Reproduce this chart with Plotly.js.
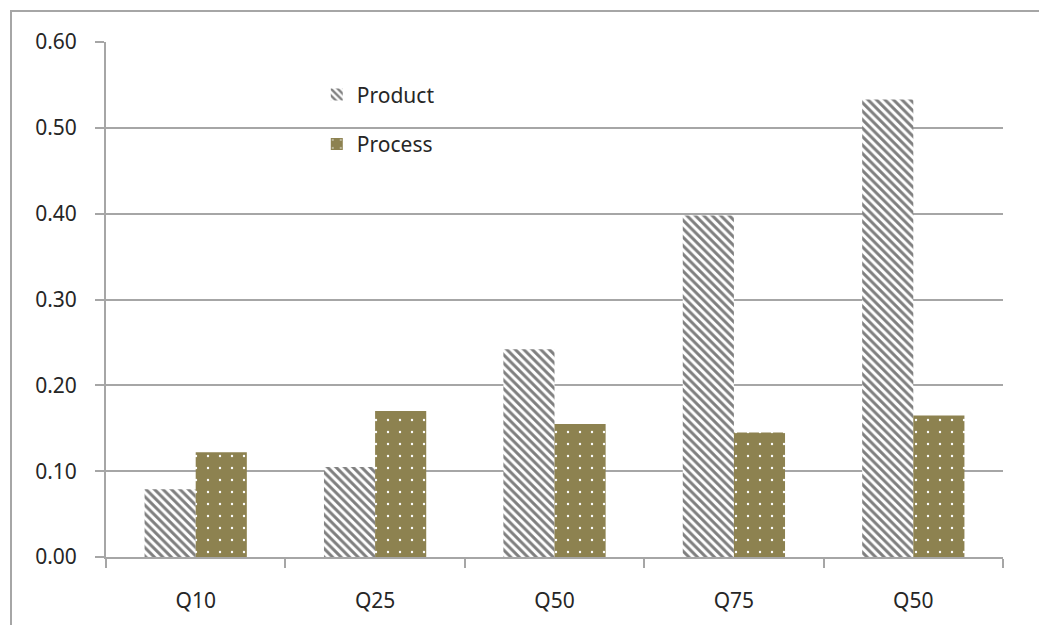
<!DOCTYPE html>
<html>
<head>
<meta charset="utf-8">
<script src="https://cdn.plot.ly/plotly-3.0.1.min.js"></script>
<style>
  html, body { margin: 0; padding: 0; background: #fff; }
  #wrap { position: relative; width: 1039px; height: 625px; overflow: hidden; }
  #chart { position: absolute; left: 0; top: 0; width: 1039px; height: 625px; }
  #frame { position: absolute; left: 10px; top: 10px; width: 1100px; height: 700px;
           border-top: 2px solid #a6a6a6; border-left: 2px solid #a6a6a6; pointer-events: none; }
</style>
</head>
<body>
<div id="wrap">
  <div id="chart"></div>
  <div id="frame"></div>
</div>
<script>
// Data
const categories = ["Q10", "Q25", "Q50", "Q75", "Q50"];
const productValues = [0.079, 0.105, 0.242, 0.398, 0.533];
const processValues = [0.122, 0.170, 0.155, 0.145, 0.165];
const seriesNames = ["Product", "Process"];
const yTicks = [0, 0.1, 0.2, 0.3, 0.4, 0.5, 0.6];

const positions = categories.map((c, i) => i);

const traces = [
  {
    type: "bar",
    name: seriesNames[0],
    legendgroup: "a",
    x: positions,
    y: productValues,
    marker: {
      color: "#ffffff",
      line: { width: 0 },
      pattern: { shape: "\\", fgcolor: "#7f7f7f", bgcolor: "#ffffff", size: 6, solidity: 0.5, fillmode: "replace" }
    },
    hoverinfo: "y"
  },
  {
    type: "bar",
    name: seriesNames[1],
    legendgroup: "b",
    x: positions,
    y: processValues,
    marker: {
      color: "#8d8250",
      line: { width: 0 },
      pattern: { shape: ".", fgcolor: "#ffffff", bgcolor: "#8d8250", size: 12, solidity: 0.03, fillmode: "replace" }
    },
    hoverinfo: "y"
  }
];

const fontFam = "'Noto Sans', 'DejaVu Sans', sans-serif";
const txt = "#262626";

const layout = {
  width: 1039,
  height: 625,
  margin: { l: 106, r: 36, t: 42, b: 68, pad: 0 },
  paper_bgcolor: "rgba(0,0,0,0)",
  plot_bgcolor: "#ffffff",
  font: { family: fontFam, size: 21, color: txt },
  barmode: "group",
  bargap: 0.43,
  bargroupgap: 0,
  showlegend: true,
  legend: {
    x: 0.235, y: 0.937, xanchor: "left", yanchor: "top",
    bgcolor: "rgba(0,0,0,0)",
    font: { family: fontFam, size: 21, color: txt },
    tracegroupgap: 19,
    traceorder: "grouped",
    itemwidth: 30
  },
  xaxis: {
    type: "linear",
    range: [-0.5, categories.length - 0.5],
    tickvals: positions,
    ticktext: categories,
    ticks: "",
    ticklabelstandoff: 24,
    showgrid: false,
    zeroline: false,
    showline: true,
    linecolor: "#a6a6a6",
    linewidth: 2,
    tickfont: { family: fontFam, size: 21, color: txt },
    minor: { tick0: -0.5, dtick: 1, ticks: "outside", ticklen: 9, tickcolor: "#a6a6a6", tickwidth: 2, showgrid: false }
  },
  yaxis: {
    range: [0, 0.6],
    tickvals: yTicks,
    tickformat: ".2f",
    ticks: "outside",
    ticklen: 9,
    tickwidth: 2,
    tickcolor: "#a6a6a6",
    ticklabelstandoff: 14,
    showgrid: true,
    gridcolor: "#a6a6a6",
    gridwidth: 2,
    zeroline: false,
    showline: true,
    linecolor: "#a6a6a6",
    linewidth: 2,
    tickfont: { family: fontFam, size: 21, color: txt }
  }
};

Plotly.newPlot("chart", traces, layout, { staticPlot: true, displayModeBar: false });
</script>
</body>
</html>
